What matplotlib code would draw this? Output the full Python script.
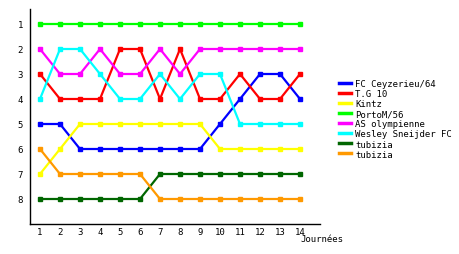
import matplotlib
matplotlib.use("Agg")
import matplotlib.pyplot as plt
from matplotlib.lines import Line2D

journees = list(range(1, 15))
teams = ["FC Ceyzerieu/64", "T.G 10", "Kintz", "PortoM/56",
         "AS olympienne", "Wesley Sneijder FC", "tubizia", "tubizia"]
colors = ["#0000ff", "#ff0000", "#ffff00", "#00ff00",
          "#ff00ff", "#00ffff", "#006600", "#ff9900"]

ceyzerieu = [5, 5, 6, 6, 6, 6, 6, 6, 6, 5, 4, 3, 3, 4]
tg10 = [3, 4, 4, 4, 2, 2, 4, 2, 4, 4, 3, 4, 4, 3]
kintz = [7, 6, 5, 5, 5, 5, 5, 5, 5, 6, 6, 6, 6, 6]
porto = [1, 1, 1, 1, 1, 1, 1, 1, 1, 1, 1, 1, 1, 1]
olympienne = [2, 3, 3, 2, 3, 3, 2, 3, 2, 2, 2, 2, 2, 2]
sneijder = [4, 2, 2, 3, 4, 4, 3, 4, 3, 3, 5, 5, 5, 5]
tubizia1 = [8, 8, 8, 8, 8, 8, 7, 7, 7, 7, 7, 7, 7, 7]
tubizia2 = [6, 7, 7, 7, 7, 7, 8, 8, 8, 8, 8, 8, 8, 8]
series = [ceyzerieu, tg10, kintz, porto, olympienne, sneijder, tubizia1, tubizia2]

plt.rcParams['font.family'] = ['DejaVu Sans Mono']

fig = plt.figure(figsize=(4.6, 2.55), dpi=100)
ax = fig.add_axes([30/460, 30/255, 290/460, 215/255])

for vals, name, c in zip(series, teams, colors):
    ax.plot(journees, vals, color=c, lw=1.6, marker='s', ms=2.8)

ax.set_xlim(0.5, 15)
ax.set_ylim(9, 0.4)
ax.set_xticks(journees)
ax.set_yticks(range(1, 9))
ax.tick_params(length=0, labelsize=6.5, pad=2)
ax.tick_params(axis='y', pad=5)
for s in ["top", "right"]:
    ax.spines[s].set_visible(False)
for s in ["left", "bottom"]:
    ax.spines[s].set_linewidth(1)
ax.text(300/460, 1 - 240/255, "Journées", transform=fig.transFigure,
        fontsize=6.5, va='center', ha='left')

handles = [Line2D([], [], color=c, lw=2.5) for c in colors]
ax.legend(handles, teams, loc='upper left', bbox_to_anchor=(339/460, 1 - 80/255),
          bbox_transform=fig.transFigure, frameon=False, fontsize=6.5,
          handlelength=1.3, handletextpad=0.5, labelspacing=0.12,
          borderpad=0, borderaxespad=0)

fig.savefig("out.png", dpi=100)
